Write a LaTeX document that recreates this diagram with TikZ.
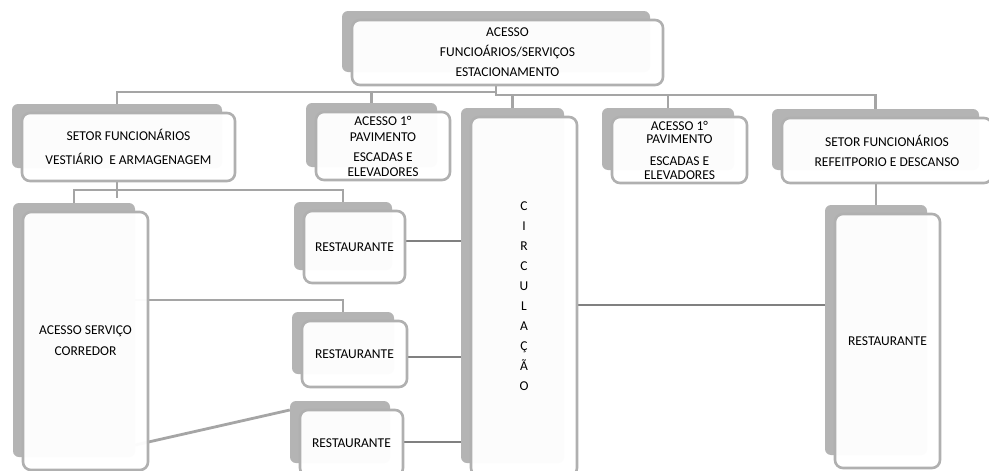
\documentclass[tikz,border=0pt]{standalone}
\usepackage{fontspec}
\setmainfont{Carlito}
\usetikzlibrary{backgrounds}

\definecolor{shadowgray}{RGB}{180,180,180}
\definecolor{edgegray}{RGB}{176,176,176}
\definecolor{linegray}{RGB}{165,165,165}
\definecolor{darkline}{RGB}{128,128,128}

\tikzset{
  shadowbox/.style={fill=shadowgray, draw=none, rounded corners=6pt, inner sep=0pt},
  frontbox/.style={draw=edgegray, line width=2.6pt, fill=white, fill opacity=0.96,
    text opacity=1, rounded corners=8pt, inner sep=0pt, align=center,
    font=\fontsize{13.5}{16}\selectfont},
  trunk/.style={draw=linegray, line width=2.8pt},
  link/.style={draw=darkline, line width=1.3pt}
}

% #1 name, #2 left, #3 top, #4 right, #5 bottom, #6 text
% the grey backing card sits up and to the left of the white card
\newcommand\twinbox[6]{%
  \node[shadowbox, minimum width={(#4-#2-3)*1pt}, minimum height={(#5-#3-4)*1pt}]
    (#1s) at ({(#2+#4-23)/2},{(#3+#5-22)/2}) {};
  \node[frontbox, minimum width={(#4-#2)*1pt}, minimum height={(#5-#3)*1pt}]
    (#1) at ({(#2+#4)/2},{(#3+#5)/2}) {#6};
}

\begin{document}
\begin{tikzpicture}[x=1pt, y=-1pt]
\useasboundingbox (0,0) rectangle (989,471);

% cards
\twinbox{top}{352}{20}{663}{85}{ACESSO\\[4pt]FUNCIOÁRIOS/SERVIÇOS\\[4pt]ESTACIONAMENTO}
\twinbox{vest}{22}{113}{235}{181}{SETOR FUNCIONÁRIOS\\[8pt]VESTIÁRIO\ \ E ARMAGENAGEM}
\twinbox{escL}{316}{112}{450}{180}{ACESSO 1°\\[0pt]PAVIMENTO\\[4pt]ESCADAS E\\[-1pt]ELEVADORES}
\twinbox{circ}{471}{117}{577}{476}{C\\[4pt]I\\[4pt]R\\[4pt]C\\[4pt]U\\[4pt]L\\[4pt]A\\[4pt]Ç\\[4pt]Ã\\[4pt]O}
\twinbox{escR}{612}{117}{747}{183}{ACESSO 1°\\[-3pt]PAVIMENTO\\[6pt]ESCADAS E\\[-2pt]ELEVADORES}
\twinbox{refeit}{782}{118}{992}{183}{SETOR FUNCIONÁRIOS\\[4pt]REFEITPORIO E DESCANSO}
\twinbox{corr}{23}{212}{148}{470}{ACESSO SERVIÇO\\[5pt]CORREDOR}
\twinbox{rest1}{304}{211}{405}{283}{RESTAURANTE}
\twinbox{rest2}{302}{321}{407}{387}{RESTAURANTE}
\twinbox{rest3}{300}{410}{403}{476}{RESTAURANTE}
\twinbox{restR}{835}{214}{940}{468}{RESTAURANTE}

\begin{pgfonlayer}{background}
  \fill[white] (0,0) rectangle (989,471);

  % top level buses
  \draw[trunk] (tops.south |- top.south) -- (tops.south |- 0,92) -| (vests.north);
  \draw[trunk] (escLs.north |- 0,92) -- (escLs.north);
  \draw[trunk] (tops.south |- 0,92) -- (tops.south |- 0,95) -| (refeits.north);
  \draw[trunk] (circs.north |- 0,95) -- (circs.north);
  \draw[trunk] (escRs.north |- 0,95) -- (escRs.north);

  % below the changing rooms
  \draw[trunk] (vests.south |- vest.south) -- (vests.south |- 0,198);
  \draw[trunk] (corrs.north) |- (rest1s.north |- 0,190) -- (rest1s.north);

  % service corridor branches
  \draw[trunk] (corrs.east |- 0,300) -- (rest2s.north |- 0,300) -- (rest2s.north);
  \draw[trunk] (corrs.east |- 0,445) -- (rest3s.west |- 0,410);

  % refeitorio to its restaurant
  \draw[trunk] (restRs.north |- refeit.south) -- (restRs.north);

  % circulation links
  \draw[link] (rest1.east |- 0,241) -- (circs.west |- 0,241);
  \draw[link] (rest2.east |- 0,357) -- (circs.west |- 0,357);
  \draw[link] (rest3.east |- 0,442) -- (circs.west |- 0,442);
  \draw[link] (circ.east |- 0,305) -- (restRs.west |- 0,305);
\end{pgfonlayer}
\end{tikzpicture}
\end{document}
